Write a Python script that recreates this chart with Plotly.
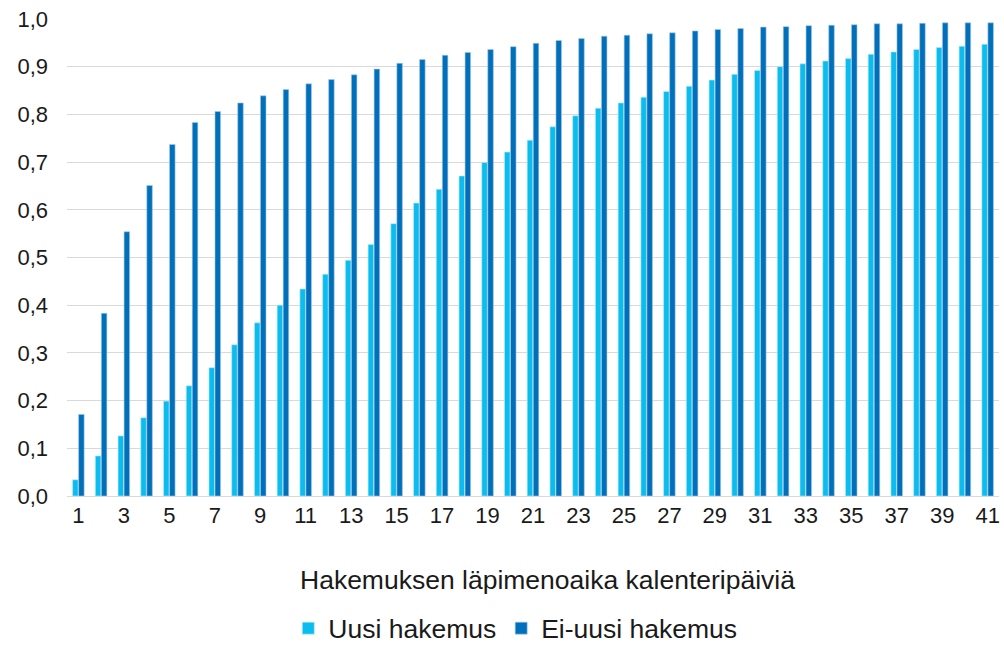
import plotly.graph_objects as go

days = list(range(1, 42))

uusi = [0.034, 0.084, 0.126, 0.164, 0.199, 0.231, 0.269, 0.317, 0.363, 0.400,
        0.434, 0.465, 0.494, 0.527, 0.571, 0.614, 0.643, 0.671, 0.699, 0.721,
        0.746, 0.774, 0.797, 0.813, 0.824, 0.836, 0.848, 0.859, 0.872, 0.884,
        0.892, 0.900, 0.906, 0.912, 0.917, 0.926, 0.931, 0.936, 0.940, 0.943,
        0.947]

ei_uusi = [0.171, 0.383, 0.554, 0.651, 0.737, 0.783, 0.806, 0.824, 0.839, 0.852,
           0.864, 0.873, 0.883, 0.895, 0.907, 0.915, 0.924, 0.930, 0.936, 0.942,
           0.949, 0.955, 0.959, 0.964, 0.966, 0.969, 0.971, 0.975, 0.978, 0.980,
           0.983, 0.984, 0.986, 0.987, 0.988, 0.990, 0.990, 0.991, 0.992, 0.992,
           0.992]

y_ticks = [i / 10 for i in range(11)]
x_ticks = days[::2]

fig = go.Figure()

fig.add_trace(go.Bar(x=days, y=uusi, name="Uusi hakemus",
                     marker=dict(color="#0BBCEF", line=dict(color="#BDEBFA", width=0.6))))
fig.add_trace(go.Bar(x=days, y=ei_uusi, name="Ei-uusi hakemus",
                     marker=dict(color="#0070BA", line=dict(color="#A9C8E6", width=0.6))))

fig.update_layout(
    width=1004, height=657,
    margin=dict(l=67, r=5, t=19, b=148),
    paper_bgcolor="white", plot_bgcolor="white",
    font=dict(family="Liberation Sans, Arial", size=22, color="#1a1a1a"),
    separators=",.",
    barmode="group", bargap=0.47, bargroupgap=0.08,
    xaxis=dict(range=[0.5, 41.5], tickmode="array", tickvals=x_ticks,
               showgrid=False, showline=False, ticks="", automargin=False,
               ticklabelstandoff=4),
    yaxis=dict(range=[0, 1.0], tickmode="array", tickvals=y_ticks, tickformat=".1f",
               showgrid=True, gridcolor="#D9D9D9", gridwidth=1.3,
               zeroline=True, zerolinecolor="#D9D9D9", zerolinewidth=1.3,
               showline=False, ticks="", automargin=False, ticklabelstandoff=18,
               ticklabeloverflow="allow"),
    showlegend=True,
    legend=dict(orientation="h", x=0.481, xanchor="center", y=-0.2776, yanchor="middle",
                font=dict(size=26.5), itemwidth=30, traceorder="normal"),
    annotations=[dict(text="Hakemuksen läpimenoaika kalenteripäiviä",
                      x=0.516, xref="paper", y=-0.1755, yref="paper",
                      xanchor="center", yanchor="middle", showarrow=False,
                      font=dict(size=26.5))],
)

# drop the default body margin so the figure sits at the page corner
fig.write_html("out.html", config={"displayModeBar": False},
               post_script="document.body.style.margin='0';"
                           "document.documentElement.style.overflow='hidden';")
